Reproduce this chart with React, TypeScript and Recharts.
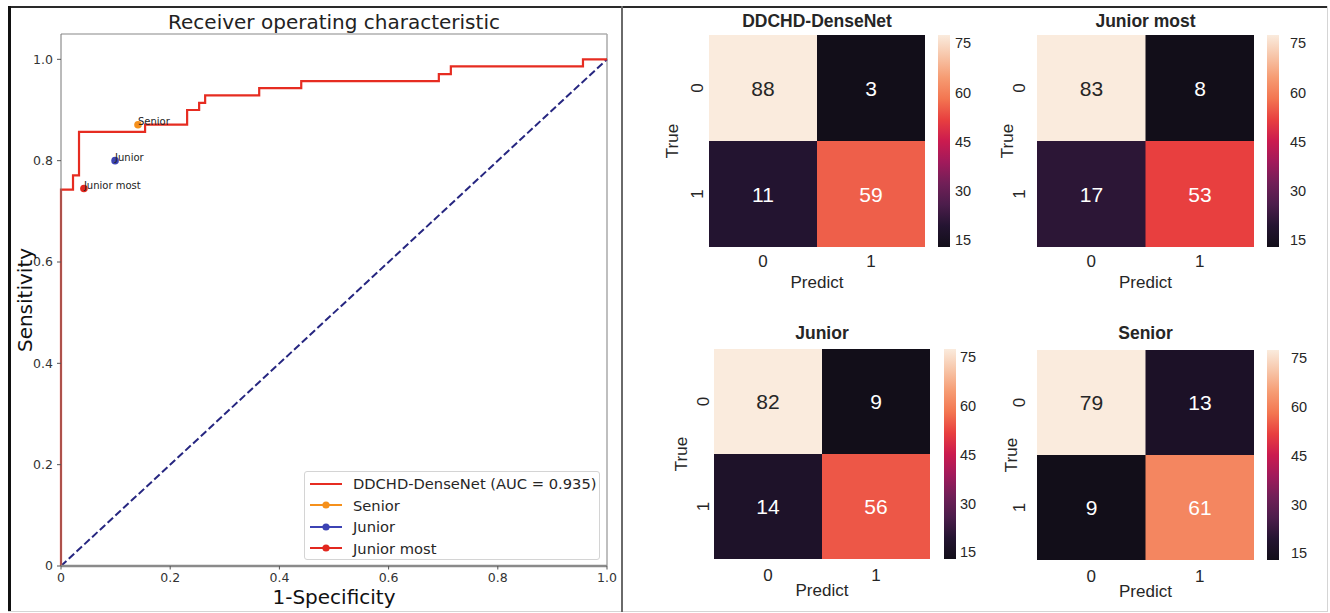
import React from "react";
import {
  ComposedChart,
  Line,
  Scatter,
  XAxis,
  YAxis,
  ReferenceLine,
  Legend,
  BarChart,
  Bar,
  Cell,
  LabelList,
} from "recharts";

// ROC curve vertices (1-specificity, sensitivity)
const fpr = [0, 0, 0.022, 0.022, 0.033, 0.033, 0.154, 0.154, 0.231, 0.231, 0.253, 0.253, 0.264, 0.264, 0.363, 0.363, 0.44, 0.44, 0.692, 0.692, 0.714, 0.714, 0.956, 0.956, 1.0];
const tpr = [0, 0.743, 0.743, 0.771, 0.771, 0.857, 0.857, 0.871, 0.871, 0.9, 0.9, 0.914, 0.914, 0.929, 0.929, 0.943, 0.943, 0.957, 0.957, 0.971, 0.971, 0.986, 0.986, 1.0, 1.0];
const chanceX = [0, 1];
const chanceY = [0, 1];

const readerNames = ["Senior", "Junior", "Junior most"];
const readerFpr = [0.141, 0.099, 0.042];
const readerTpr = [0.871, 0.8, 0.745];
const readerColors = ["#f5901b", "#3c43b4", "#e2281f"];

const rocTicks = [0, 0.2, 0.4, 0.6, 0.8, 1.0];
const aucLabel = "DDCHD-DenseNet (AUC = 0.935)";

// confusion matrices [true][predict]
const predictLabels = ["0", "1"];
const trueLabels = ["0", "1"];
const cmDense = [[88, 3], [11, 59]];
const cmJuniorMost = [[83, 8], [17, 53]];
const cmJunior = [[82, 9], [14, 56]];
const cmSenior = [[79, 13], [9, 61]];
const cbarTicks = [15, 30, 45, 60, 75];
const cbarDomain = [13, 77.5];

// rocket-like colormap, low -> high
const rocketStops = ["#120e19", "#241431", "#4c1d4b", "#711f57", "#a11a5b", "#cb1b4f", "#e83f3f", "#f37651", "#f69c73", "#f7c5a8", "#faebdd"];

const hexRgb = (h: string) => [1, 3, 5].map((i) => parseInt(h.slice(i, i + 2), 16));

function rocketRgb(t: number) {
  const c = Math.max(0, Math.min(1, t)) * (rocketStops.length - 1);
  const i = Math.min(Math.floor(c), rocketStops.length - 2);
  const f = c - i;
  const a = hexRgb(rocketStops[i]);
  const b = hexRgb(rocketStops[i + 1]);
  return a.map((v, k) => Math.round(v + (b[k] - v) * f));
}

const rgbStr = (c: number[]) => `rgb(${c[0]},${c[1]},${c[2]})`;

function isLight(c: number[]) {
  const lin = c.map((v) => {
    const s = v / 255;
    return s <= 0.03928 ? s / 12.92 : Math.pow((s + 0.055) / 1.055, 2.4);
  });
  return 0.2126 * lin[0] + 0.7152 * lin[1] + 0.0722 * lin[2] > 0.408;
}

const MPL = "'DejaVu Sans', sans-serif";
const SNS = "'Liberation Sans', Arial, sans-serif";

function RocLegend() {
  const rows = [{ name: aucLabel, color: "#e62c21", dot: false }].concat(
    readerNames.map((n, i) => ({ name: n, color: readerColors[i], dot: true }))
  );
  return (
    <div
      style={{
        width: 296,
        height: 89,
        border: "1px solid #d4d4d4",
        borderRadius: 3,
        background: "rgba(255,255,255,0.85)",
        paddingTop: 1,
        boxSizing: "border-box",
        fontFamily: MPL,
        fontSize: 14.7,
        color: "#262626",
      }}
    >
      {rows.map((r) => (
        <div key={r.name} style={{ height: 21.5, display: "flex", alignItems: "center" }}>
          <svg width={48} height={12} style={{ flex: "none" }}>
            <line x1={5} y1={6} x2={37} y2={6} stroke={r.color} strokeWidth={2} />
            {r.dot && <circle cx={21} cy={6} r={3.6} fill={r.color} />}
          </svg>
          <span style={{ whiteSpace: "nowrap", lineHeight: "21.5px" }}>{r.name}</span>
        </div>
      ))}
    </div>
  );
}

function RocPanel() {
  const rocData = fpr.map((x, i) => ({ x, y: tpr[i] }));
  const chanceData = chanceX.map((x, i) => ({ x, y: chanceY[i] }));
  const fmt = (v: number) => (v === 0 ? "0" : v.toFixed(1));
  return (
    <div style={{ position: "absolute", left: 0, top: 0, width: 622, height: 613 }}>
      <ComposedChart width={622} height={613} margin={{ top: 34, right: 15, bottom: 17, left: 21 }}>
        <XAxis
          type="number"
          dataKey="x"
          domain={[0, 1]}
          ticks={rocTicks}
          tickFormatter={fmt}
          height={30}
          interval={0}
          axisLine={{ stroke: "#8a8a8a", strokeWidth: 2.5 }}
          tickLine={{ stroke: "#555" }}
          tickSize={3.5}
          tickMargin={4}
          tick={{ fontSize: 12.5, fill: "#333", fontFamily: MPL }}
        />
        <YAxis
          type="number"
          domain={[0, 1.05]}
          ticks={rocTicks}
          tickFormatter={fmt}
          width={40}
          interval={0}
          axisLine={{ stroke: "#777", strokeWidth: 1 }}
          tickLine={{ stroke: "#555" }}
          tickSize={4}
          tickMargin={4}
          tick={{ fontSize: 12.5, fill: "#333", fontFamily: MPL }}
        />
        <ReferenceLine y={1.05} stroke="#888" strokeWidth={1.2} />
        <ReferenceLine x={1} stroke="#aaa" strokeWidth={1.5} />
        <Line
          data={chanceData}
          dataKey="y"
          type="linear"
          stroke="#262680"
          strokeWidth={2}
          strokeDasharray="7.4 3.2"
          dot={false}
          isAnimationActive={false}
          legendType="none"
        />
        <Line
          data={rocData}
          dataKey="y"
          type="linear"
          stroke="#e62c21"
          strokeWidth={2.2}
          dot={false}
          isAnimationActive={false}
        />
        {readerNames.map((n, i) => (
          <Scatter
            key={n}
            name={n}
            data={[{ x: readerFpr[i], y: readerTpr[i], name: n }]}
            dataKey="y"
            fill={readerColors[i]}
            isAnimationActive={false}
            shape={(p: any) => (
              <g>
                <circle cx={p.cx} cy={p.cy} r={3.8} fill={readerColors[i]} />
                <text x={p.cx} y={p.cy} fontSize={10} fill="#222" fontFamily={MPL}>
                  {p.payload.name}
                </text>
              </g>
            )}
          />
        ))}
        <Legend
          layout="vertical"
          align="center"
          verticalAlign="middle"
          content={() => <RocLegend />}
          wrapperStyle={{ position: "absolute", left: 304, top: 471, width: 296, height: 89 }}
        />
      </ComposedChart>
      <div
        style={{
          position: "absolute", left: 84, top: 10, width: 500, lineHeight: "24px",
          textAlign: "center", fontFamily: MPL, fontSize: 20, color: "#222",
        }}
      >
        Receiver operating characteristic
      </div>
      <div
        style={{
          position: "absolute", left: 25 - 70, top: 300 - 12, width: 140, lineHeight: "24px",
          textAlign: "center", fontFamily: MPL, fontSize: 20, color: "#111",
          transform: "rotate(-90deg)",
        }}
      >
        Sensitivity
      </div>
      <div
        style={{
          position: "absolute", left: 234, top: 597 - 12, width: 200, lineHeight: "24px",
          textAlign: "center", fontFamily: MPL, fontSize: 20, color: "#111",
        }}
      >
        1-Specificity
      </div>
    </div>
  );
}

interface HeatProps {
  id: string;
  title: string;
  cm: number[][];
  left: number;
  top: number;
  w: number;
  h: number;
  cbLeft: number;
  cbGap: number;
  rowOff: number;
  trueOff: number;
  tickOff: number;
  predOff: number;
  titleOff: number;
}

function Heatmap({ id, title, cm, left, top, w, h, cbLeft, cbGap, rowOff, trueOff, tickOff, predOff, titleOff }: HeatProps) {
  const flat = cm.flat();
  const vmin = Math.min(...flat);
  const vmax = Math.max(...flat);
  const col = (v: number) => rocketRgb((v - vmin) / (vmax - vmin));
  const data = predictLabels.map((p, j) => ({ pred: p, row1: 1, row0: 1, v0: cm[0][j], v1: cm[1][j] }));
  const yw = 50;
  const annot = (p: any) => {
    const c = col(p.value);
    return (
      <text
        x={p.x + p.width / 2}
        y={p.y + p.height / 2}
        textAnchor="middle"
        dominantBaseline="central"
        fontSize={21}
        fontFamily={SNS}
        fill={isLight(c) ? "#262626" : "#ffffff"}
      >
        {p.value}
      </text>
    );
  };
  const cbW = 12;
  return (
    <>
      <div
        style={{
          position: "absolute", left: left - 50, top: top - titleOff - 12, width: w + 100,
          lineHeight: "24px", textAlign: "center", fontFamily: SNS, fontWeight: "bold",
          fontSize: 17.5, color: "#262626",
        }}
      >
        {title}
      </div>
      <div style={{ position: "absolute", left: left - yw, top, width: w + yw, height: h + 30 }}>
        <BarChart
          width={w + yw}
          height={h + 30}
          data={data}
          margin={{ top: 0, right: 0, bottom: 0, left: 0 }}
          barCategoryGap={0}
          barGap={0}
        >
          <XAxis
            dataKey="pred"
            height={30}
            axisLine={false}
            tickLine={false}
            interval={0}
            tick={(p: any) => (
              <text x={p.x} y={h + tickOff} textAnchor="middle" dominantBaseline="central" fontSize={17} fontFamily={SNS} fill="#262626">
                {p.payload.value}
              </text>
            )}
          />
          <YAxis
            type="number"
            domain={[0, 2]}
            ticks={[0.5, 1.5]}
            width={yw}
            interval={0}
            axisLine={false}
            tickLine={false}
            tick={(p: any) => {
              const yy = p.payload.coordinate;
              const xx = yw - rowOff;
              return (
                <text
                  x={xx}
                  y={yy}
                  transform={`rotate(-90 ${xx} ${yy})`}
                  textAnchor="middle"
                  dominantBaseline="central"
                  fontSize={17}
                  fontFamily={SNS}
                  fill="#262626"
                >
                  {p.payload.value > 1 ? trueLabels[0] : trueLabels[1]}
                </text>
              );
            }}
          />
          <Bar dataKey="row1" stackId="m" isAnimationActive={false}>
            {data.map((d) => (
              <Cell key={d.pred} fill={rgbStr(col(d.v1))} />
            ))}
            <LabelList dataKey="v1" content={annot} />
          </Bar>
          <Bar dataKey="row0" stackId="m" isAnimationActive={false}>
            {data.map((d) => (
              <Cell key={d.pred} fill={rgbStr(col(d.v0))} />
            ))}
            <LabelList dataKey="v0" content={annot} />
          </Bar>
        </BarChart>
      </div>
      <div style={{ position: "absolute", left: cbLeft, top, width: cbW + 40, height: h }}>
        <BarChart
          width={cbW + 40}
          height={h}
          data={[{ k: "cb", range: cbarDomain }]}
          margin={{ top: 0, right: 0, bottom: 0, left: 0 }}
          barCategoryGap={0}
        >
          <defs>
            <linearGradient id={`grad-${id}`} x1="0" y1="1" x2="0" y2="0">
              {rocketStops.map((s, i) => (
                <stop key={i} offset={`${(i * 100) / (rocketStops.length - 1)}%`} stopColor={s} />
              ))}
            </linearGradient>
          </defs>
          <XAxis dataKey="k" hide />
          <YAxis
            orientation="right"
            type="number"
            domain={cbarDomain}
            ticks={cbarTicks}
            width={40}
            interval={0}
            axisLine={false}
            tickLine={false}
            tick={(p: any) => (
              <text x={cbW + cbGap} y={p.payload.coordinate} dominantBaseline="central" fontSize={14.5} fontFamily={SNS} fill="#262626">
                {p.payload.value}
              </text>
            )}
          />
          <Bar dataKey="range" fill={`url(#grad-${id})`} isAnimationActive={false} />
        </BarChart>
      </div>
      <div
        style={{
          position: "absolute", left: left - trueOff - 40, top: top + h / 2 - 12, width: 80,
          lineHeight: "24px", textAlign: "center", fontFamily: SNS, fontSize: 17, color: "#262626",
          transform: "rotate(-90deg)",
        }}
      >
        True
      </div>
      <div
        style={{
          position: "absolute", left: left + w / 2 - 50, top: top + h + predOff - 12, width: 100,
          lineHeight: "24px", textAlign: "center", fontFamily: SNS, fontSize: 17, color: "#262626",
        }}
      >
        Predict
      </div>
    </>
  );
}

export default function App() {
  return (
    <div style={{ position: "absolute", left: 0, top: 0, width: 1330, height: 613, background: "#fff", overflow: "hidden" }}>
      <RocPanel />
      <Heatmap id="dense" title="DDCHD-DenseNet" cm={cmDense} left={709} top={35} w={216} h={212}
        cbLeft={938} cbGap={5} rowOff={12} trueOff={36} tickOff={14} predOff={36} titleOff={14} />
      <Heatmap id="jmost" title="Junior most" cm={cmJuniorMost} left={1037} top={35} w={217} h={212}
        cbLeft={1267} cbGap={11} rowOff={18} trueOff={29} tickOff={14} predOff={36} titleOff={14} />
      <Heatmap id="junior" title="Junior" cm={cmJunior} left={714} top={349} w={216} h={210}
        cbLeft={944} cbGap={4} rowOff={11} trueOff={32} tickOff={16} predOff={32} titleOff={16} />
      <Heatmap id="senior" title="Senior" cm={cmSenior} left={1037} top={350} w={217} h={210}
        cbLeft={1267} cbGap={12} rowOff={18} trueOff={25} tickOff={16.5} predOff={32} titleOff={17} />
      {/* panel frames */}
      <div style={{ position: "absolute", left: 8, top: 6, width: 1320, height: 2, background: "#2a2a2a" }} />
      <div style={{ position: "absolute", left: 8, top: 6, width: 2.5, height: 606, background: "#111" }} />
      <div style={{ position: "absolute", left: 8, top: 610.5, width: 1320, height: 1, background: "#d5d5d5" }} />
      <div style={{ position: "absolute", left: 1327, top: 6, width: 1, height: 605, background: "#d5d5d5" }} />
      <div style={{ position: "absolute", left: 620.5, top: 6, width: 2, height: 606, background: "#6a6a6a" }} />
    </div>
  );
}
